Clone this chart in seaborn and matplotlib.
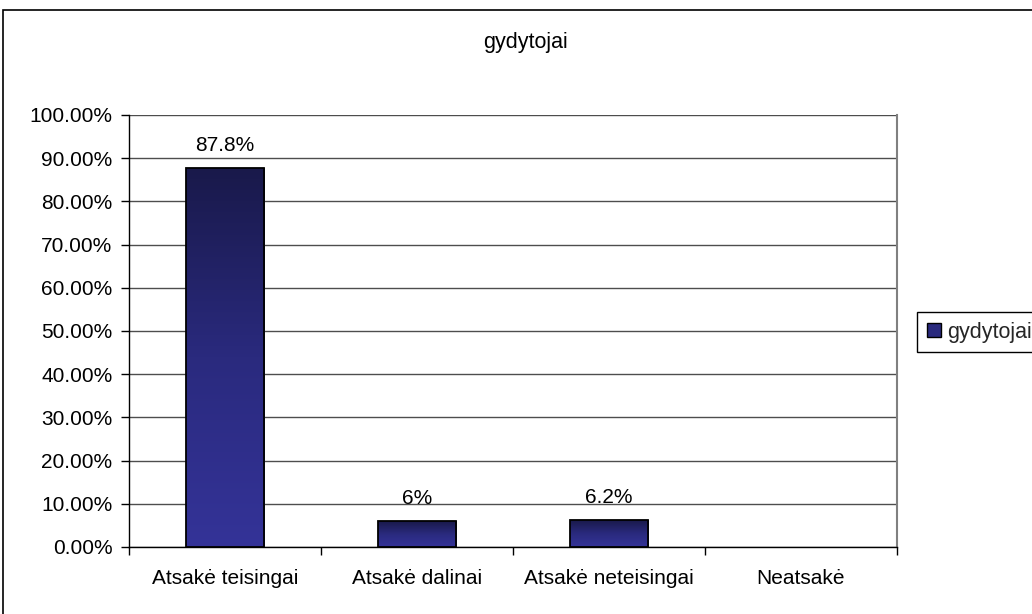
import numpy as np
import matplotlib
matplotlib.use("Agg")
import matplotlib.pyplot as plt
import seaborn as sns
import pandas as pd
from matplotlib.colors import LinearSegmentedColormap
from matplotlib.patches import Rectangle, Patch
from matplotlib.ticker import FixedLocator, NullFormatter

categories = ["Atsakė teisingai", "Atsakė dalinai", "Atsakė neteisingai", "Neatsakė"]
values = [87.8, 6.0, 6.2, 0.0]
value_labels = ["87.8%", "6%", "6.2%", ""]
ytick_values = [0, 10, 20, 30, 40, 50, 60, 70, 80, 90, 100]
series_name = "gydytojai"

sns.set_theme(style="white")
plt.rcParams['font.family'] = ['Liberation Sans', 'DejaVu Sans']

fig = plt.figure(figsize=(10.32, 6.14), dpi=100)
W, H = 1032, 614
ax = fig.add_axes([129 / W, 1 - 547 / H, (897 - 129) / W, (547 - 115) / H])

df = pd.DataFrame({"cat": categories, "val": values})
sns.barplot(data=df, x="cat", y="val", ax=ax, width=0.41, color="#333399",
            edgecolor="black", linewidth=1.3, zorder=3)

# vertical gradient fill for each bar: dark navy at the top, lighter blue at the base
cmap = LinearSegmentedColormap.from_list("bar_grad", ["#343398", "#2a2a7e", "#19194a"])
grad = np.linspace(0, 1, 256).reshape(-1, 1)
for patch in ax.patches:
    x0, y0 = patch.get_x(), patch.get_y()
    w, h = patch.get_width(), patch.get_height()
    if h <= 0:
        patch.set_visible(False)
        continue
    im = ax.imshow(grad, extent=[x0, x0 + w, y0, y0 + h], origin="lower",
                   aspect="auto", cmap=cmap, zorder=3.5)
    im.set_clip_path(patch)
    patch.set_facecolor("none")
    patch.set_zorder(4)

ax.set_xlim(-0.5, len(categories) - 0.5)
ax.set_ylim(0, 100)

# value labels above the bars
for i, (v, lab) in enumerate(zip(values, value_labels)):
    if lab:
        ax.annotate(lab, (i, v), xytext=(0, 9.5), textcoords="offset points",
                    ha="center", va="bottom", fontsize=15, color="black", zorder=5)

# y axis
ax.set_yticks(ytick_values)
ax.set_yticklabels([f"{t:.2f}%" for t in ytick_values], fontsize=15, color="black")
ax.yaxis.grid(True, color="#4d4d4d", linewidth=1.0, zorder=0)
ax.set_axisbelow(True)
ax.tick_params(axis="y", which="major", direction="out", length=6, width=1,
               color="black", left=True, pad=6)

# x axis: ticks between categories, labels centred under each bar
ax.xaxis.set_major_locator(FixedLocator(np.arange(-0.5, len(categories), 1.0)))
ax.xaxis.set_major_formatter(NullFormatter())
ax.xaxis.set_minor_locator(FixedLocator(np.arange(len(categories))))
ax.set_xticklabels(categories, minor=True, fontsize=15, color="black")
ax.tick_params(axis="x", which="major", direction="out", length=6, width=1,
               color="black", bottom=True)
ax.tick_params(axis="x", which="minor", length=0, pad=16)
ax.set_xlabel("")
ax.set_ylabel("")

for side in ["left", "bottom"]:
    ax.spines[side].set_color("black")
    ax.spines[side].set_linewidth(1.0)
ax.spines["right"].set_color("#808080")
ax.spines["right"].set_linewidth(1.5)
ax.spines["top"].set_visible(False)

# chart title
fig.text(526 / W, 1 - 48 / H, series_name, ha="center", va="baseline",
         fontsize=15.5, color="black")

# legend
handle = Patch(facecolor="#2a2a7e", edgecolor="black", linewidth=1.0, label=series_name)
leg = fig.legend(handles=[handle], loc="upper left", bbox_to_anchor=(917 / W, 1 - 312 / H),
                 fontsize=15.5, frameon=True, fancybox=False, framealpha=1,
                 edgecolor="black", borderpad=0.45, handlelength=0.65, handleheight=0.65,
                 handletextpad=0.3, borderaxespad=0)
leg.get_frame().set_linewidth(1.0)

# outer chart border
fig.patches.append(Rectangle((3 / W, -0.05), 1.2, 1 - 10 / H + 0.05, transform=fig.transFigure,
                             fill=False, edgecolor="black", linewidth=1.2))

fig.savefig("out.png", dpi=100)
